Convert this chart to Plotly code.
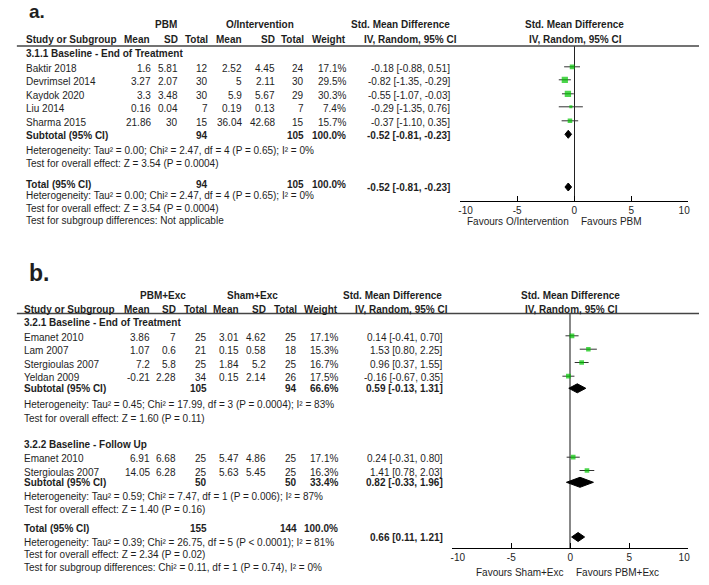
import plotly.graph_objects as go

W, H = 709, 585

# ---------------- Data: panel a ----------------
a_studies = ["Baktir 2018", "Devrimsel 2014", "Kaydok 2020", "Liu 2014", "Sharma 2015"]
a_exp_mean = [1.6, 3.27, 3.3, 0.16, 21.86]
a_exp_sd = [5.81, 2.07, 3.48, 0.04, 30]
a_exp_n = [12, 30, 30, 7, 15]
a_ctl_mean = [2.52, 5, 5.9, 0.19, 36.04]
a_ctl_sd = [4.45, 2.11, 5.67, 0.13, 42.68]
a_ctl_n = [24, 30, 29, 7, 15]
a_weight = [17.1, 29.5, 30.3, 7.4, 15.7]
a_smd = [-0.18, -0.82, -0.55, -0.29, -0.37]
a_lo = [-0.88, -1.35, -1.07, -1.35, -1.10]
a_hi = [0.51, -0.29, -0.03, 0.76, 0.35]
a_sub = dict(n1=94, n2=105, w=100.0, est=-0.52, lo=-0.81, hi=-0.23)
a_tot = dict(n1=94, n2=105, w=100.0, est=-0.52, lo=-0.81, hi=-0.23)
a_het_sub = "Heterogeneity: Tau² = 0.00; Chi² = 2.47, df = 4 (P = 0.65); I² = 0%"
a_z_sub = "Test for overall effect: Z = 3.54 (P = 0.0004)"
a_het_tot = "Heterogeneity: Tau² = 0.00; Chi² = 2.47, df = 4 (P = 0.65); I² = 0%"
a_z_tot = "Test for overall effect: Z = 3.54 (P = 0.0004)"
a_subgrp = "Test for subgroup differences: Not applicable"

# ---------------- Data: panel b ----------------
b1_studies = ["Emanet 2010", "Lam 2007", "Stergioulas 2007", "Yeldan 2009"]
b1_exp_mean = [3.86, 1.07, 7.2, -0.21]
b1_exp_sd = [7, 0.6, 5.8, 2.28]
b1_exp_n = [25, 21, 25, 34]
b1_ctl_mean = [3.01, 0.15, 1.84, 0.15]
b1_ctl_sd = [4.62, 0.58, 5.2, 2.14]
b1_ctl_n = [25, 18, 25, 26]
b1_weight = [17.1, 15.3, 16.7, 17.5]
b1_smd = [0.14, 1.53, 0.96, -0.16]
b1_lo = [-0.41, 0.80, 0.37, -0.67]
b1_hi = [0.70, 2.25, 1.55, 0.35]
b1_sub = dict(n1=105, n2=94, w=66.6, est=0.59, lo=-0.13, hi=1.31)
b1_het = "Heterogeneity: Tau² = 0.45; Chi² = 17.99, df = 3 (P = 0.0004); I² = 83%"
b1_z = "Test for overall effect: Z = 1.60 (P = 0.11)"

b2_studies = ["Emanet 2010", "Stergioulas 2007"]
b2_exp_mean = [6.91, 14.05]
b2_exp_sd = [6.68, 6.28]
b2_exp_n = [25, 25]
b2_ctl_mean = [5.47, 5.63]
b2_ctl_sd = [4.86, 5.45]
b2_ctl_n = [25, 25]
b2_weight = [17.1, 16.3]
b2_smd = [0.24, 1.41]
b2_lo = [-0.31, 0.78]
b2_hi = [0.80, 2.03]
b2_sub = dict(n1=50, n2=50, w=33.4, est=0.82, lo=-0.33, hi=1.96)
b2_het = "Heterogeneity: Tau² = 0.59; Chi² = 7.47, df = 1 (P = 0.006); I² = 87%"
b2_z = "Test for overall effect: Z = 1.40 (P = 0.16)"
b_tot = dict(n1=155, n2=144, w=100.0, est=0.66, lo=0.11, hi=1.21)
b_het_tot = "Heterogeneity: Tau² = 0.39; Chi² = 26.75, df = 5 (P < 0.0001); I² = 81%"
b_z_tot = "Test for overall effect: Z = 2.34 (P = 0.02)"
b_subgrp = "Test for subgroup differences: Chi² = 0.11, df = 1 (P = 0.74), I² = 0%"

tick_vals = [-10, -5, 0, 5, 10]
tick_text = ["\u00a0\u00a0\u00a0\u00a0-10", "-5", "0", "5", "10\u00a0\u00a0\u00a0"]

# ---------------- helpers ----------------
FONT = "Liberation Sans, Arial, sans-serif"
TXT = "#1e1e1e"
GREEN = "#00c400"
ann = []


def txt(s, x, y, anchor="left", bold=False, size=10, yanchor="middle"):
    ann.append(dict(text=f"<b>{s}</b>" if bold else s, x=x / W, y=1 - y / H,
                    xref="paper", yref="paper", xanchor=anchor, yanchor=yanchor,
                    showarrow=False, borderpad=0,
                    font=dict(size=size, color=TXT, family=FONT)))


def g(v):
    return f"{v:g}"


def ci(e, l, h):
    return f"{e:.2f} [{l:.2f}, {h:.2f}]"


def study_row(y, name, m1, s1, n1, m2, s2, n2, w, e, l, h, cols):
    txt(name, cols["name"], y)
    txt(g(m1), cols["m1"], y, "right")
    txt(g(s1), cols["s1"], y, "right")
    txt(str(n1), cols["n1"], y, "right")
    txt(g(m2), cols["m2"], y, "right")
    txt(g(s2), cols["s2"], y, "right")
    txt(str(n2), cols["n2"], y, "right")
    txt(f"{w:.1f}%", cols["w"], y, "right")
    txt(ci(e, l, h), cols["ci"], y, "right")


def sum_row(y, label, d, cols, y_ci=None):
    txt(label, cols["name"], y, bold=True)
    txt(str(d["n1"]), cols["n1"], y, "right", bold=True)
    txt(str(d["n2"]), cols["n2"], y, "right", bold=True)
    txt(f"{d['w']:.1f}%", cols["w"], y, "right", bold=True)
    txt(ci(d["est"], d["lo"], d["hi"]), cols["ci"], y if y_ci is None else y_ci, "right", bold=True)


fig = go.Figure()


def forest(xa, ya, ys, est, lo, hi, wts):
    xs, yy = [], []
    for yv, l, h in zip(ys, lo, hi):
        xs += [l, h, None]
        yy += [yv, yv, None]
    fig.add_trace(go.Scatter(x=xs, y=yy, mode="lines", xaxis=xa, yaxis=ya,
                             line=dict(color="#333333", width=1), hoverinfo="skip"))
    fig.add_trace(go.Scatter(x=est, y=ys, mode="markers", xaxis=xa, yaxis=ya,
                             marker=dict(symbol="square", color=GREEN,
                                         size=[1.15 * w ** 0.5 for w in wts], line=dict(width=0))))


def diamond(xa, ya, y, d, hh):
    fig.add_trace(go.Scatter(x=[d["lo"], d["est"], d["hi"], d["est"], d["lo"]],
                             y=[y, y - hh, y, y + hh, y], mode="lines", fill="toself",
                             xaxis=xa, yaxis=ya, fillcolor="black",
                             line=dict(color="black", width=1), hoverinfo="skip"))


# ---------------- Panel a layout ----------------
ca = dict(name=12, m1=144, s1=172, n1=203, m2=238, s2=272, n2=302, w=345, ci=453)
txt("a.", 16, 0, bold=True, size=19, yanchor="top")
txt("PBM", 158, 25, "center", bold=True)
txt("O/Intervention", 255, 25, "center", bold=True)
txt("Std. Mean Difference", 400, 25, "center", bold=True)
txt("Std. Mean Difference", 580, 25, "center", bold=True)
txt("Study or Subgroup", 12, 40, bold=True)
for s, x in [("Mean", 143), ("SD", 172), ("Total", 203), ("Mean", 238), ("SD", 272), ("Total", 302), ("Weight", 345)]:
    txt(s, x, 40, "right", bold=True)
txt("IV, Random, 95% CI", 411, 40, "center", bold=True)
txt("IV, Random, 95% CI", 581, 40, "center", bold=True)
txt("3.1.1 Baseline - End of Treatment", 12, 53, bold=True)

a_text_y = [68.3, 81.3, 95.3, 108.3, 122.3]
for i, yv in enumerate(a_text_y):
    study_row(yv, a_studies[i], a_exp_mean[i], a_exp_sd[i], a_exp_n[i], a_ctl_mean[i],
              a_ctl_sd[i], a_ctl_n[i], a_weight[i], a_smd[i], a_lo[i], a_hi[i], ca)
sum_row(135, "Subtotal (95% CI)", a_sub, ca)
txt(a_het_sub, 12, 150)
txt(a_z_sub, 12, 163.5)
sum_row(184.5, "Total (95% CI)", a_tot, ca, y_ci=188)
txt(a_het_tot, 12, 196)
txt(a_z_tot, 12, 208)
txt(a_subgrp, 12, 220.5)
txt("Favours O/Intervention", 576, 221, "right")
txt("Favours PBM", 586, 221, "left")

forest("x", "y", [v - 1.5 for v in a_text_y], a_smd, a_lo, a_hi, a_weight)
diamond("x", "y", 134.3, a_sub, 4)
diamond("x", "y", 187, a_tot, 4)

# ---------------- Panel b layout ----------------
cb = dict(name=10, m1=143, s1=169, n1=202, m2=235, s2=263, n2=295, w=337, ci=445)
txt("b.", 16, 273, bold=True, size=23)
txt("PBM+Exc", 155, 295, "center", bold=True)
txt("Sham+Exc", 248, 295, "center", bold=True)
txt("Std. Mean Difference", 392, 295, "center", bold=True)
txt("Std. Mean Difference", 576, 295, "center", bold=True)
txt("Study or Subgroup", 10, 309, bold=True)
for s, x in [("Mean", 143), ("SD", 169), ("Total", 202), ("Mean", 235), ("SD", 263), ("Total", 295), ("Weight", 337)]:
    txt(s, x, 309, "right", bold=True)
txt("IV, Random, 95% CI", 402, 309, "center", bold=True)
txt("IV, Random, 95% CI", 577, 309, "center", bold=True)
txt("3.2.1 Baseline - End of Treatment", 10, 322.5, bold=True)

b1_text_y = [337.3, 350.7, 364, 377.7]
for i, yv in enumerate(b1_text_y):
    study_row(yv, b1_studies[i], b1_exp_mean[i], b1_exp_sd[i], b1_exp_n[i], b1_ctl_mean[i],
              b1_ctl_sd[i], b1_ctl_n[i], b1_weight[i], b1_smd[i], b1_lo[i], b1_hi[i], cb)
sum_row(388.5, "Subtotal (95% CI)", b1_sub, cb)
txt(b1_het, 10, 404)
txt(b1_z, 10, 418)
txt("3.2.2 Baseline - Follow Up", 10, 444, bold=True)
b2_text_y = [458.7, 472]
for i, yv in enumerate(b2_text_y):
    study_row(yv, b2_studies[i], b2_exp_mean[i], b2_exp_sd[i], b2_exp_n[i], b2_ctl_mean[i],
              b2_ctl_sd[i], b2_ctl_n[i], b2_weight[i], b2_smd[i], b2_lo[i], b2_hi[i], cb)
sum_row(482.5, "Subtotal (95% CI)", b2_sub, cb)
txt(b2_het, 10, 496)
txt(b2_z, 10, 509)
sum_row(528, "Total (95% CI)", b_tot, cb, y_ci=537)
txt(b_het_tot, 10, 542)
txt(b_z_tot, 10, 554.5)
txt(b_subgrp, 10, 567)
txt("Favours Sham+Exc", 571, 572, "right")
txt("Favours PBM+Exc", 581, 572, "left")

forest("x2", "y2", [v - 1.5 for v in b1_text_y + b2_text_y], b1_smd + b2_smd,
       b1_lo + b2_lo, b1_hi + b2_hi, b1_weight + b2_weight)
diamond("x2", "y2", 388.3, b1_sub, 4.5)
diamond("x2", "y2", 482.3, b2_sub, 5)
diamond("x2", "y2", 537, b_tot, 4.5)

# header rules
shapes = [
    dict(type="line", xref="paper", yref="paper", x0=4 / W, x1=1, y0=1 - 46 / H, y1=1 - 46 / H,
         line=dict(color="#444", width=1.3)),
    dict(type="line", xref="paper", yref="paper", x0=4 / W, x1=1, y0=1 - 313.5 / H, y1=1 - 313.5 / H,
         line=dict(color="#444", width=1.3)),
]

axis_common = dict(range=[-10, 10], showline=True, linecolor="black", linewidth=1,
                   ticks="inside", ticklen=5, tickcolor="black", tickwidth=1,
                   tickvals=tick_vals, ticktext=tick_text, showgrid=False,
                   zeroline=True, tickfont=dict(size=10, color=TXT, family=FONT),
                   ticklabeloverflow="allow", fixedrange=True)

fig.update_layout(
    width=W, height=H, margin=dict(l=0, r=0, t=0, b=0),
    paper_bgcolor="white", plot_bgcolor="rgba(0,0,0,0)", showlegend=False,
    annotations=ann, shapes=shapes,
    xaxis=dict(domain=[462 / W, 698 / W], anchor="y", zerolinecolor="#222", zerolinewidth=1,
               **axis_common),
    yaxis=dict(domain=[1 - 201 / H, 1 - 46 / H], range=[201, 46], visible=False, fixedrange=True),
    xaxis2=dict(domain=[454 / W, 698 / W], anchor="y2", zerolinecolor="#888", zerolinewidth=1.5,
                **axis_common),
    yaxis2=dict(domain=[1 - 548 / H, 1 - 314 / H], range=[548, 314], visible=False, fixedrange=True),
)

fig.write_html("out.html", config={"displayModeBar": False, "responsive": False},
               post_script="document.body.style.margin='0';document.body.style.overflow='hidden';")
